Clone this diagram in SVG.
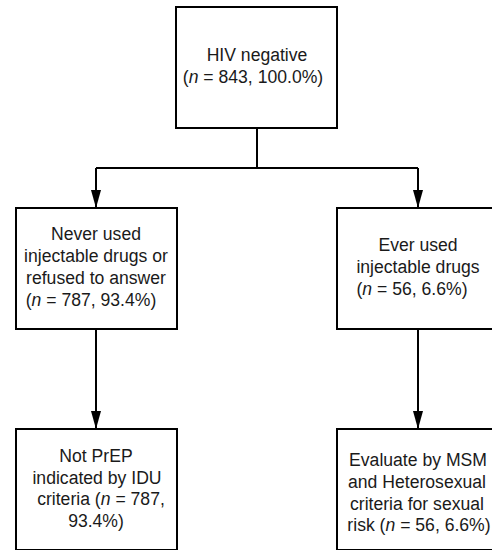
<svg xmlns="http://www.w3.org/2000/svg" width="492" height="550" viewBox="0 0 492 550">
  <style>
    .box { fill: #ffffff; stroke: #000000; stroke-width: 2; }
    .lbl { font-family: "Liberation Sans", Arial, sans-serif; font-size: 17.6px; fill: #1a1a1a; text-anchor: middle; }
    .conn { fill: none; stroke: #000000; stroke-width: 2; }
  </style>
  <defs>
    <marker id="arrow" viewBox="0 0 18 10" refX="18" refY="5" markerWidth="18" markerHeight="10" orient="auto" markerUnits="userSpaceOnUse">
      <path d="M0,0 L18,5 L0,10 z" fill="#000000"/>
    </marker>
  </defs>
  <rect width="492" height="550" fill="#ffffff"/>

  <g id="connectors">
    <path class="conn" d="M257,128 V168"/>
    <path class="conn" d="M96,168 H418"/>
    <path class="conn" d="M96,168 V208" marker-end="url(#arrow)"/>
    <path class="conn" d="M418,168 V208" marker-end="url(#arrow)"/>
    <path class="conn" d="M96,329 V429" marker-end="url(#arrow)"/>
    <path class="conn" d="M418,329 V429" marker-end="url(#arrow)"/>
  </g>

  <g id="hiv-negative">
    <rect class="box" x="176" y="7" width="161" height="121"/>
    <text class="lbl" x="257" y="61">HIV negative</text>
    <text class="lbl" x="253" y="83">(<tspan font-style="italic">n</tspan> = 843, 100.0%)</text>
  </g>

  <g id="never-used">
    <rect class="box" x="16" y="208" width="161" height="121"/>
    <text class="lbl" x="96" y="240">Never used</text>
    <text class="lbl" x="96" y="262">injectable drugs or</text>
    <text class="lbl" x="96" y="284">refused to answer</text>
    <text class="lbl" x="91" y="306">(<tspan font-style="italic">n</tspan> = 787, 93.4%)</text>
  </g>

  <g id="ever-used">
    <rect class="box" x="337" y="208" width="161" height="121"/>
    <text class="lbl" x="418" y="251">Ever used</text>
    <text class="lbl" x="418" y="273">injectable drugs</text>
    <text class="lbl" x="412" y="295">(<tspan font-style="italic">n</tspan> = 56, 6.6%)</text>
  </g>

  <g id="not-prep">
    <rect class="box" x="16" y="429" width="161" height="121"/>
    <text class="lbl" x="96" y="462">Not PrEP</text>
    <text class="lbl" x="97" y="484">indicated by IDU</text>
    <text class="lbl" x="101" y="505">criteria (<tspan font-style="italic">n</tspan> = 787,</text>
    <text class="lbl" x="96" y="527">93.4%)</text>
  </g>

  <g id="evaluate">
    <rect class="box" x="337" y="429" width="161" height="121"/>
    <text class="lbl" x="418" y="466">Evaluate by MSM</text>
    <text class="lbl" x="417" y="488">and Heterosexual</text>
    <text class="lbl" x="417" y="510">criteria for sexual</text>
    <text class="lbl" x="419" y="531">risk (<tspan font-style="italic">n</tspan> = 56, 6.6%)</text>
  </g>
</svg>
